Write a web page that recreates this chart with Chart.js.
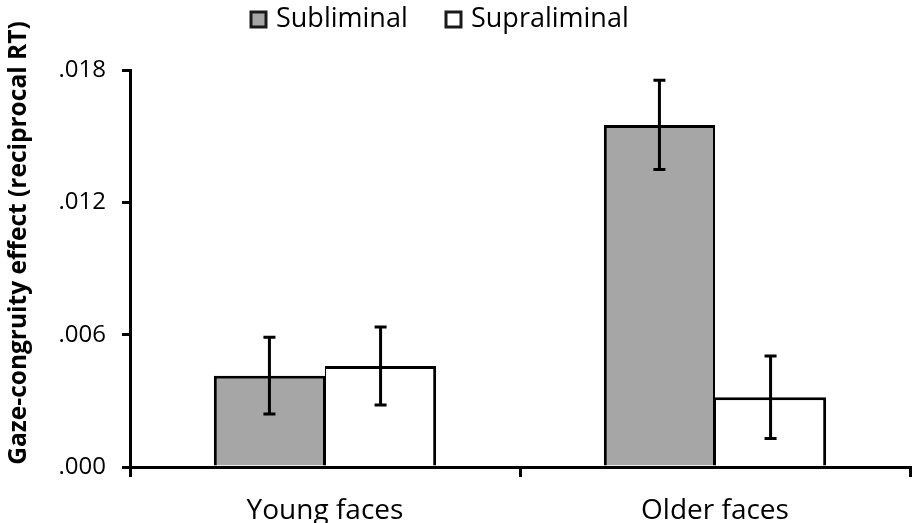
<!DOCTYPE html>
<html>
<head>
<meta charset="utf-8">
<script src="https://cdn.jsdelivr.net/npm/chart.js@4.4.1/dist/chart.umd.min.js"></script>
<style>
  html, body { margin: 0; padding: 0; background: #ffffff; }
  #wrap { width: 915px; height: 523px; }
</style>
</head>
<body>
<div id="wrap"><canvas id="c" width="915" height="523"></canvas></div>
<script>
// ---- Data ----
const categories = ["Young faces", "Older faces"];
const seriesNames = ["Subliminal", "Supraliminal"];
const subliminal = [0.00414, 0.01551];
const supraliminal = [0.00458, 0.00316];
const subliminalErr = [0.00174, 0.00202];
const supraliminalErr = [0.00177, 0.00187];
const yTicks = [0.000, 0.006, 0.012, 0.018];
const yTitle = "Gaze-congruity effect (reciprocal RT)";

const FONT = "'Open Sans', 'DejaVu Sans', sans-serif";

const errorBarPlugin = {
  id: 'errorBars',
  afterDatasetsDraw(chart) {
    const ctx = chart.ctx;
    const yScale = chart.scales.y;
    ctx.save();
    ctx.strokeStyle = '#000';
    ctx.lineWidth = 3;
    ctx.lineCap = 'butt';
    chart.data.datasets.forEach((ds, di) => {
      const meta = chart.getDatasetMeta(di);
      meta.data.forEach((bar, i) => {
        const v = ds.data[i], e = ds.errors[i];
        const x = bar.x;
        const yTop = yScale.getPixelForValue(v + e);
        const yBot = yScale.getPixelForValue(v - e);
        ctx.beginPath();
        ctx.moveTo(x, yTop); ctx.lineTo(x, yBot);
        ctx.moveTo(x - 6, yTop); ctx.lineTo(x + 6, yTop);
        ctx.moveTo(x - 6, yBot); ctx.lineTo(x + 6, yBot);
        ctx.stroke();
      });
    });
    ctx.restore();
  }
};

const legendAndTitlePlugin = {
  id: 'legendTitle',
  afterDraw(chart) {
    const ctx = chart.ctx;
    ctx.save();
    // Legend
    const items = [
      { x: 251, textX: 276 },
      { x: 446, textX: 471 }
    ];
    ctx.font = "27px " + FONT;
    ctx.textBaseline = 'middle';
    ctx.textAlign = 'left';
    chart.data.datasets.forEach((ds, i) => {
      const it = items[i];
      ctx.fillStyle = ds.backgroundColor;
      ctx.fillRect(it.x, 12, 15, 15);
      ctx.strokeStyle = '#1a1a1a';
      ctx.lineWidth = 3;
      ctx.strokeRect(it.x, 12, 15, 15);
      ctx.fillStyle = '#000';
      ctx.fillText(ds.label, it.textX, 19);
    });
    // Y axis title
    ctx.translate(19, 243);
    ctx.rotate(-Math.PI / 2);
    ctx.font = "bold 24.5px " + FONT;
    ctx.textAlign = 'center';
    ctx.textBaseline = 'middle';
    ctx.fillStyle = '#000';
    ctx.fillText(yTitle, 0, 0);
    ctx.restore();
  }
};

new Chart(document.getElementById('c'), {
  type: 'bar',
  data: {
    labels: categories,
    datasets: [
      { label: seriesNames[0], data: subliminal, errors: subliminalErr,
        backgroundColor: '#a6a6a6', borderColor: '#000',
        borderWidth: { top: 3, left: 3, right: 2, bottom: 0 },
        barPercentage: 1.0, categoryPercentage: 0.57 },
      { label: seriesNames[1], data: supraliminal, errors: supraliminalErr,
        backgroundColor: '#ffffff', borderColor: '#000',
        borderWidth: { top: 3, left: 1, right: 3, bottom: 0 },
        barPercentage: 1.0, categoryPercentage: 0.57 }
    ]
  },
  options: {
    responsive: false,
    animation: false,
    devicePixelRatio: 1,
    layout: { padding: { left: 0, right: 5, top: 70, bottom: 0 } },
    plugins: {
      legend: { display: false },
      tooltip: { enabled: false }
    },
    scales: {
      x: {
        offset: true,
        grid: { display: true, offset: true, drawOnChartArea: false, drawTicks: true,
                tickLength: 10, color: '#000', lineWidth: 3 },
        border: { display: true, color: '#000', width: 3 },
        ticks: { color: '#000', font: { family: FONT, size: 28 }, padding: 17 },
        afterFit(scale) { scale.height = 56; }
      },
      y: {
        min: 0, max: 0.018,
        afterBuildTicks(scale) { scale.ticks = yTicks.map(v => ({ value: v })); },
        grid: { display: true, drawOnChartArea: false, drawTicks: true,
                tickLength: 8, color: '#000', lineWidth: 3 },
        border: { display: true, color: '#000', width: 3 },
        ticks: {
          color: '#000', font: { family: FONT, size: 24 }, padding: 16,
          callback: (v) => '.' + Number(v).toFixed(3).split('.')[1]
        },
        afterFit(scale) { scale.width = 130; }
      }
    }
  },
  plugins: [errorBarPlugin, legendAndTitlePlugin]
});
</script>
</body>
</html>
